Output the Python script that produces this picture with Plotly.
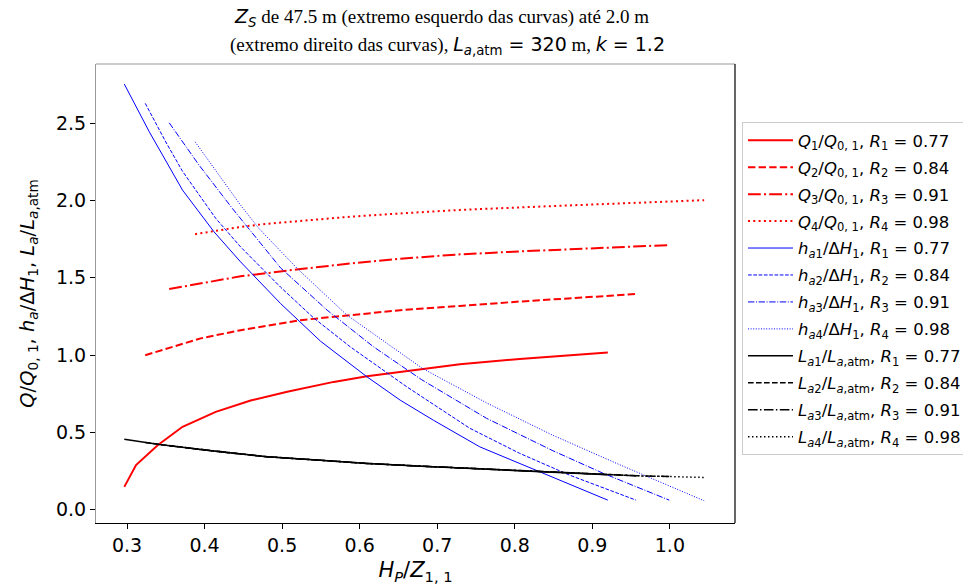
import plotly.graph_objects as go

R_vals = [0.77, 0.84, 0.91, 0.98]

# Q/Q0,1 curves
Q1_x = [0.2965, 0.3116, 0.3395, 0.3716, 0.4144, 0.4594, 0.5066, 0.5665, 0.6094, 0.6522, 0.7293, 0.8064, 0.92]
Q1_y = [0.146, 0.287, 0.416, 0.535, 0.632, 0.705, 0.762, 0.826, 0.862, 0.891, 0.940, 0.975, 1.017]
Q2_x = [0.3235, 0.3951, 0.4465, 0.5237, 0.5879, 0.6522, 0.7293, 0.8022, 0.9564]
Q2_y = [0.999, 1.108, 1.161, 1.226, 1.258, 1.29, 1.318, 1.345, 1.395]
Q3_x = [0.3544, 0.4465, 0.5237, 0.5879, 0.6522, 0.7293, 0.8235, 0.9, 0.9992]
Q3_y = [1.427, 1.51, 1.557, 1.593, 1.624, 1.652, 1.675, 1.692, 1.712]
Q4_x = [0.3878, 0.4465, 0.4808, 0.5879, 0.6522, 0.7293, 0.8449, 0.95, 1.0442]
Q4_y = [1.783, 1.83, 1.85, 1.896, 1.917, 1.94, 1.964, 1.985, 2.003]

# h_a/DeltaH1 curves
h1_x = [0.2965, 0.3287, 0.3716, 0.4122, 0.4465, 0.4979, 0.5494, 0.6094, 0.6522, 0.695, 0.755, 0.8321, 0.92]
h1_y = [2.755, 2.446, 2.068, 1.798, 1.603, 1.334, 1.09, 0.859, 0.708, 0.578, 0.405, 0.244, 0.06]
h2_x = [0.3235, 0.35, 0.3716, 0.4144, 0.4465, 0.4979, 0.5407, 0.5879, 0.6608, 0.7422, 0.8064, 0.8707, 0.9564]
h2_y = [2.63, 2.38, 2.19, 1.885, 1.70, 1.44, 1.24, 1.053, 0.794, 0.525, 0.363, 0.222, 0.06]
h3_x = [0.3544, 0.3929, 0.4359, 0.4979, 0.558, 0.6179, 0.68, 0.7636, 0.8492, 0.9135, 0.9992]
h3_y = [2.504, 2.23, 1.949, 1.565, 1.291, 1.053, 0.84, 0.59, 0.38, 0.235, 0.06]
h4_x = [0.3878, 0.4272, 0.4465, 0.47, 0.5194, 0.5837, 0.6811, 0.7636, 0.8492, 0.935, 1.0442]
h4_y = [2.381, 2.1, 1.97, 1.82, 1.561, 1.258, 0.913, 0.69, 0.48, 0.29, 0.056]

# L_a/L_a,atm curves
L1_x = [0.2965, 0.3415, 0.42, 0.4808, 0.55, 0.6094, 0.68, 0.75, 0.8321, 0.92]
L1_y = [0.455, 0.421, 0.373, 0.341, 0.318, 0.298, 0.28, 0.264, 0.246, 0.224]
L2_x = [0.3235, 0.3415, 0.42, 0.4808, 0.55, 0.6094, 0.68, 0.75, 0.8321, 0.92, 0.9564]
L2_y = [0.434, 0.421, 0.373, 0.341, 0.318, 0.298, 0.28, 0.264, 0.246, 0.224, 0.218]
L3_x = [0.3544, 0.42, 0.4808, 0.55, 0.6094, 0.68, 0.75, 0.8321, 0.92, 0.9564, 0.9992]
L3_y = [0.412, 0.373, 0.341, 0.318, 0.298, 0.28, 0.264, 0.246, 0.224, 0.218, 0.213]
L4_x = [0.3878, 0.42, 0.4808, 0.55, 0.6094, 0.68, 0.75, 0.8321, 0.92, 0.9564, 0.9992, 1.0442]
L4_y = [0.391, 0.373, 0.341, 0.318, 0.298, 0.28, 0.264, 0.246, 0.224, 0.218, 0.213, 0.207]

x_ticks = [0.3, 0.4, 0.5, 0.6, 0.7, 0.8, 0.9, 1.0]
y_ticks = [0.0, 0.5, 1.0, 1.5, 2.0, 2.5]

MATH = "DejaVu Sans"
SERIF = "Liberation Serif"

# the page body adds an 8 px offset; work in page pixels and convert
OFF = 8
W, H = 971 - OFF, 588 - OFF
L_PX, R_PX, T_PX, B_PX = 95.5 - OFF, 735 - OFF, 64 - OFF, 523 - OFF

def py(p):  # page pixel y -> paper
    return (B_PX - (p - OFF)) / (B_PX - T_PX)

def px(p):  # page pixel x -> paper
    return ((p - OFF) - L_PX) / (R_PX - L_PX)

def dashes(lw):
    return ["solid",
            f"{3.7*lw:.1f}px,{1.6*lw:.1f}px",
            f"{6.4*lw:.1f}px,{1.6*lw:.1f}px,{1.0*lw:.1f}px,{1.6*lw:.1f}px",
            f"{1.0*lw:.1f}px,{1.65*lw:.1f}px"]

fig = go.Figure()

Qs = [(Q1_x, Q1_y), (Q2_x, Q2_y), (Q3_x, Q3_y), (Q4_x, Q4_y)]
hs = [(h1_x, h1_y), (h2_x, h2_y), (h3_x, h3_y), (h4_x, h4_y)]
Ls = [(L1_x, L1_y), (L2_x, L2_y), (L3_x, L3_y), (L4_x, L4_y)]

gi = 0
for i, (xs, ys) in enumerate(Qs):
    k = i + 1
    name = (f"<i>Q</i><sub>{k}</sub>/<i>Q</i><sub>0, 1</sub>, "
            f"<i>R</i><sub>{k}</sub> = {R_vals[i]:.2f}")
    fig.add_trace(go.Scatter(x=xs, y=ys, mode="lines", name=name,
                             legendgroup=f"g{gi}",
                             line=dict(color="#ff0000", width=2, dash=dashes(2)[i])))
    gi += 1
for i, (xs, ys) in enumerate(hs):
    k = i + 1
    name = (f"<i>h</i><sub><i>a</i>{k}</sub>/Δ<i>H</i><sub>1</sub>, "
            f"<i>R</i><sub>{k}</sub> = {R_vals[i]:.2f}")
    fig.add_trace(go.Scatter(x=xs, y=ys, mode="lines", name=name,
                             legendgroup=f"g{gi}",
                             line=dict(color="#0000ff", width=1, dash=dashes(1)[i])))
    gi += 1
for i, (xs, ys) in enumerate(Ls):
    k = i + 1
    name = (f"<i>L</i><sub><i>a</i>{k}</sub>/<i>L</i><sub><i>a</i>,atm</sub>, "
            f"<i>R</i><sub>{k}</sub> = {R_vals[i]:.2f}")
    fig.add_trace(go.Scatter(x=xs, y=ys, mode="lines", name=name,
                             legendgroup=f"g{gi}",
                             line=dict(color="#000000", width=1.5, dash=dashes(1.5)[i])))
    gi += 1

title_l1 = (f"<span style='font-family:{MATH}'><i>Z</i><sub><i>S</i></sub></span>"
            " de 47.5 m (extremo esquerdo das curvas) até 2.0 m")
title_l2 = ("(extremo direito das curvas), "
            f"<span style='font-family:{MATH}'><i>L</i><sub><i>a</i>,atm</sub> = 320</span>"
            " m, "
            f"<span style='font-family:{MATH}'><i>k</i> = 1.2</span>")

fig.update_layout(
    width=W, height=H,
    paper_bgcolor="white", plot_bgcolor="white",
    margin=dict(l=L_PX, r=W - R_PX, t=T_PX, b=H - B_PX, autoexpand=False),
    font=dict(family=MATH, size=19, color="black"),
    showlegend=True,
    legend=dict(x=px(742), y=py(122), xanchor="left", yanchor="top",
                bgcolor="white", bordercolor="#cccccc", borderwidth=1,
                font=dict(family=MATH, size=16.5, color="black"),
                tracegroupgap=2.5, itemwidth=45),
    xaxis=dict(range=[0.26, 1.084], tickvals=x_ticks, ticktext=[f"{v:.1f}" for v in x_ticks],
               showgrid=False, zeroline=False, showline=True, linecolor="black", linewidth=1.2,
               ticks="outside", ticklen=5, tickcolor="black", automargin=False,
               tickfont=dict(family=MATH, size=19),
               title=dict(text="<i>H</i><sub><i>P</i></sub>/<i>Z</i><sub>1, 1</sub>",
                          font=dict(family=MATH, size=21), standoff=7)),
    yaxis=dict(range=[-0.088, 2.885], tickvals=y_ticks, ticktext=[f"{v:.1f}" for v in y_ticks],
               showgrid=False, zeroline=False, showline=True, linecolor="#999999", linewidth=1.2,
               ticks="outside", ticklen=5, tickcolor="black", automargin=False,
               tickfont=dict(family=MATH, size=19),
               title=dict(text=("<i>Q</i>/<i>Q</i><sub>0, 1</sub>, <i>h</i><sub><i>a</i></sub>/Δ<i>H</i><sub>1</sub>, "
                                "<i>L</i><sub><i>a</i></sub>/<i>L</i><sub><i>a</i>,atm</sub>"),
                          font=dict(family=MATH, size=19.5), standoff=16)),
    shapes=[
        dict(type="line", xref="paper", yref="paper", x0=0, x1=1, y0=1, y1=1,
             line=dict(color="#999999", width=1.2)),
        dict(type="line", xref="paper", yref="paper", x0=1, x1=1, y0=0, y1=1,
             line=dict(color="black", width=1.2)),
    ],
    annotations=[
        dict(text=title_l1, xref="paper", yref="paper", x=px(441), y=py(18),
             xanchor="center", yanchor="middle", showarrow=False,
             font=dict(family=SERIF, size=19, color="black")),
        dict(text=title_l2, xref="paper", yref="paper", x=px(447), y=py(45),
             xanchor="center", yanchor="middle", showarrow=False,
             font=dict(family=SERIF, size=19, color="black")),
    ],
)

fig.write_html("out.html")
